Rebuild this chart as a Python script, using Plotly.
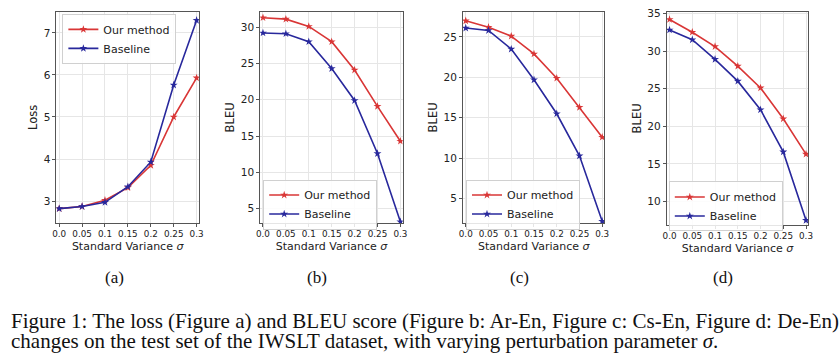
import plotly.graph_objects as go

sigma = [0.0, 0.05, 0.1, 0.15, 0.2, 0.25, 0.3]
sigma_labels = ["0.0", "0.05", "0.1", "0.15", "0.2", "0.25", "0.3"]

loss_ours = [2.82, 2.87, 3.02, 3.32, 3.85, 5.00, 5.93]
loss_base = [2.82, 2.87, 2.97, 3.34, 3.93, 5.76, 7.30]

ar_en_ours = [31.3, 31.1, 30.1, 28.0, 24.1, 19.1, 14.3]
ar_en_base = [29.2, 29.1, 28.0, 24.3, 19.9, 12.6, 3.2]

cs_en_ours = [27.0, 26.2, 25.1, 22.9, 19.9, 16.3, 12.6]
cs_en_base = [26.1, 25.8, 23.5, 19.7, 15.5, 10.3, 2.2]

de_en_ours = [34.2, 32.5, 30.6, 28.0, 25.1, 21.0, 16.3]
de_en_base = [32.8, 31.5, 28.9, 26.0, 22.2, 16.6, 7.5]

series_names = ["Our method", "Baseline"]
panel_labels = ["(a)", "(b)", "(c)", "(d)"]
caption1 = ("Figure 1: The loss (Figure a) and BLEU score (Figure b: Ar-En, Figure c: Cs-En, "
            "Figure d: De-En)")
caption2 = "changes on the test set of the IWSLT dataset, with varying perturbation parameter <i>σ</i>."

W, H = 840, 357
RED = "#d93636"
BLUE = "#28289c"
FONT = "DejaVu Sans"
TXT = "#222222"

panels = [
    dict(ours=loss_ours, base=loss_base, box=(53, 197, 7, 221), yr=[2.48, 7.5],
         yt=[3, 4, 5, 6, 7], ytitle="Loss", leg=(59, 9), lx=112),
    dict(ours=ar_en_ours, base=ar_en_base, box=(259, 403, 7, 221), yr=[3.05, 32.1],
         yt=[5, 10, 15, 20, 25, 30], ytitle="BLEU", leg=(262, 177), lx=316),
    dict(ours=cs_en_ours, base=cs_en_base, box=(464, 607, 7, 221), yr=[2.0, 28.1],
         yt=[5, 10, 15, 20, 25], ytitle="BLEU", leg=(467, 177), lx=521),
    dict(ours=de_en_ours, base=de_en_base, box=(670, 813, 7, 223), yr=[6.9, 35.2],
         yt=[10, 15, 20, 25, 30, 35], ytitle="BLEU", leg=(672, 179), lx=727),
]


def px(x):
    return x / W


def py(y):
    return 1 - y / H


fig = go.Figure()
annotations = []
for i, p in enumerate(panels):
    n = "" if i == 0 else str(i + 1)
    xa, ya = "x" + n, "y" + n
    lg = "legend" + n
    for name, vals, col in [(series_names[0], p["ours"], RED), (series_names[1], p["base"], BLUE)]:
        fig.add_trace(go.Scatter(
            x=sigma, y=vals, name=name, mode="lines+markers",
            line=dict(color=col, width=1.6),
            marker=dict(symbol="star", size=6, color=col),
            xaxis=xa, yaxis=ya, legend=lg, showlegend=True))
    x0, x1, y0, y1 = p["box"]
    axis_common = dict(showline=True, linecolor="#555555", linewidth=1, mirror=True,
                       showgrid=True, gridcolor="#e6e6e6", gridwidth=1, zeroline=False,
                       ticks="outside", ticklen=3, tickcolor="#555555")
    fig.layout["xaxis" + n] = dict(
        domain=[px(x0), px(x1)], anchor=ya, range=[-0.006, 0.305],
        tickvals=sigma, ticktext=sigma_labels,
        tickfont=dict(family=FONT, size=8.8, color=TXT),
        title=dict(text="Standard Variance <i>σ</i>", standoff=3,
                   font=dict(family=FONT, size=11, color=TXT)),
        **axis_common)
    fig.layout["yaxis" + n] = dict(
        domain=[py(y1), py(y0)], anchor=xa, range=p["yr"],
        tickvals=p["yt"],
        tickfont=dict(family=FONT, size=10.5, color=TXT),
        title=dict(text=p["ytitle"], standoff=3,
                   font=dict(family=FONT, size=11.5, color=TXT)),
        **axis_common)
    lx, ly = p["leg"]
    fig.layout[lg] = dict(
        x=px(lx), y=py(ly), xanchor="left", yanchor="top",
        bgcolor="rgba(255,255,255,0.85)", bordercolor="#d0d0d0", borderwidth=1,
        font=dict(family=FONT, size=11, color=TXT),
        tracegroupgap=0, itemwidth=30)
    annotations.append(dict(
        x=px(p["lx"]), y=py(276), xref="paper", yref="paper", text=panel_labels[i],
        showarrow=False, xanchor="center", yanchor="middle",
        font=dict(family="Liberation Serif", size=17, color="#111111")))

for txt, yy in [(caption1, 320), (caption2, 341)]:
    annotations.append(dict(
        x=px(5), y=py(yy), xref="paper", yref="paper", xanchor="left", yanchor="middle",
        text=txt, showarrow=False,
        font=dict(family="Liberation Serif", size=21, color="#111111")))

fig.update_layout(
    width=W, height=H, margin=dict(l=0, r=0, t=0, b=0),
    paper_bgcolor="white", plot_bgcolor="white",
    annotations=annotations, showlegend=True)

fig.write_html("out.html", config={"displayModeBar": False},
               post_script="document.body.style.margin='0';")
